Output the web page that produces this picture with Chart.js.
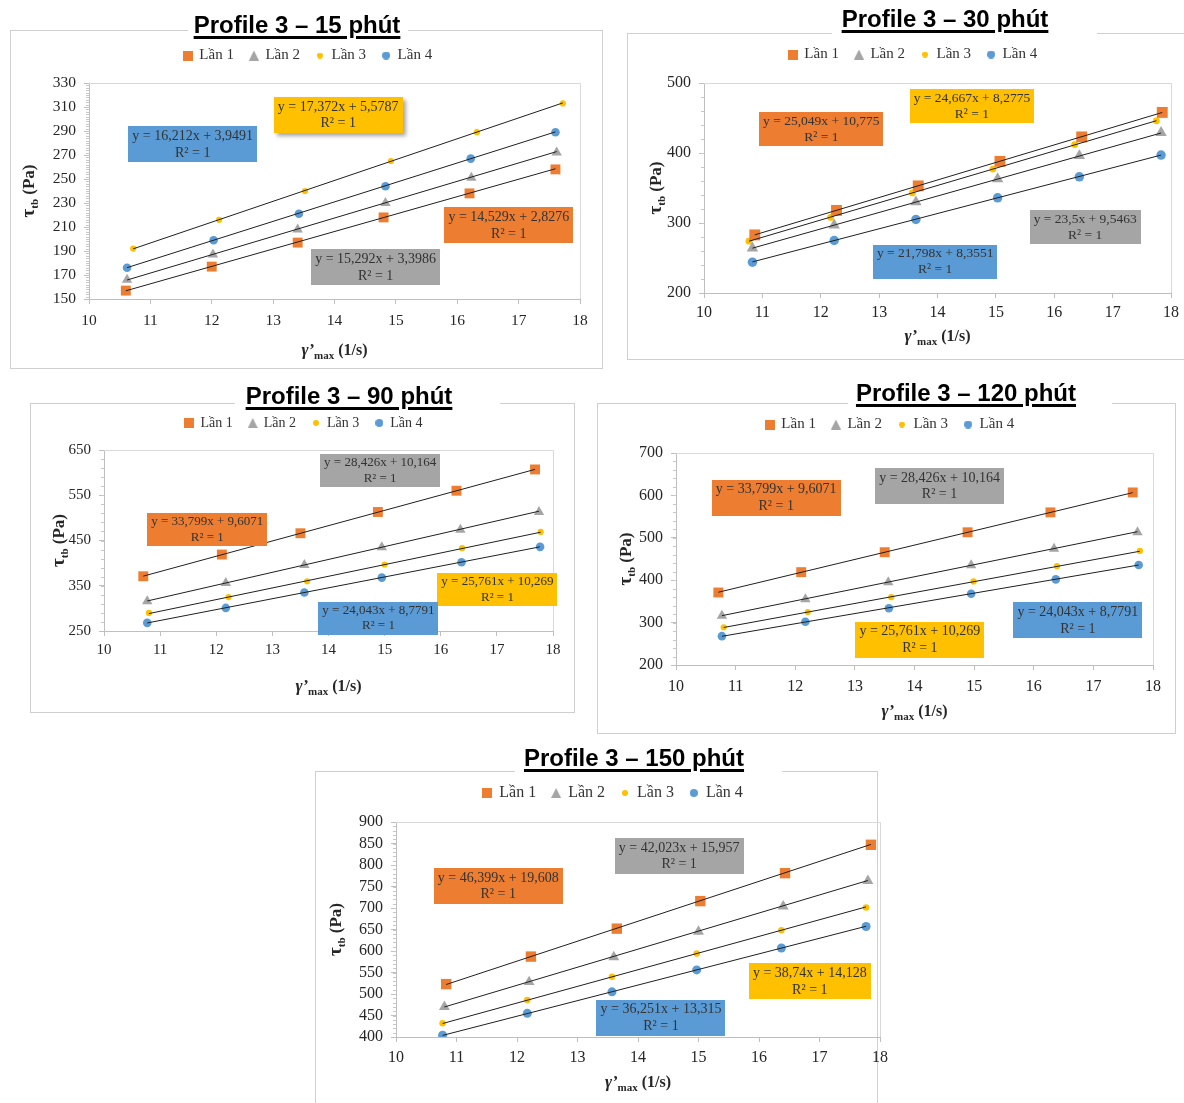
<!DOCTYPE html>
<html>
<head>
<meta charset="utf-8">
<script src="https://cdn.jsdelivr.net/npm/chart.js@4.4.1/dist/chart.umd.min.js"></script>
<style>
  html, body { margin: 0; padding: 0; background: #ffffff; }
  body { width: 1184px; height: 1103px; position: relative; overflow: hidden; }
  .frame { position: absolute; border: 1px solid #CFCFCF; box-sizing: border-box; }
  .gap { position: absolute; background: #ffffff; }
  .title { position: absolute; text-align: center; white-space: nowrap; width: 400px;
           font: bold 24px "Liberation Sans", Arial, sans-serif; color: #000; line-height: 30px;
           text-decoration: underline; text-decoration-thickness: 3px; text-underline-offset: 3px; }
  canvas { position: absolute; }
</style>
</head>
<body>
<script>
// ---- series & axes -------------------------------------------------------
const seriesNames = ['Lần 1', 'Lần 2', 'Lần 3', 'Lần 4'];
const chartTitles = ['Profile 3 – 15 phút', 'Profile 3 – 30 phút', 'Profile 3 – 90 phút',
                     'Profile 3 – 120 phút', 'Profile 3 – 150 phút'];
const xTicks = [10, 18, 1];                 // min, max, step of γ'max

// 15 phút
const x15 = [[10.6, 12.0, 13.4, 14.8, 16.2, 17.6],
             [10.62, 12.02, 13.4, 14.83, 16.23, 17.62],
             [10.72, 12.12, 13.52, 14.92, 16.32, 17.72],
             [10.62, 12.03, 13.42, 14.83, 16.22, 17.6]];
const y15 = [[157, 177, 197, 218, 238, 258],
             [166, 187, 208, 230, 251, 272],
             [192, 216, 240, 265, 289, 313],
             [176, 199, 221, 244, 267, 289]];
const slope15 = [14.529, 15.292, 17.372, 16.212];
const icpt15  = [2.8276, 3.3986, 5.5787, 3.9491];
const yTicks15 = [150, 330, 20];

// 30 phút
const x30 = [[10.87, 12.27, 13.67, 15.07, 16.47, 17.85],
             [10.83, 12.23, 13.63, 15.03, 16.43, 17.83],
             [10.77, 12.17, 13.57, 14.95, 16.35, 17.75],
             [10.83, 12.23, 13.63, 15.03, 16.43, 17.83]];
const y30 = [[283, 318, 353, 388, 423, 458],
             [264, 297, 330, 363, 396, 429],
             [274, 308, 343, 377, 412, 446],
             [244, 275, 305, 336, 366, 397]];
const slope30 = [25.049, 23.5, 24.667, 21.798];
const icpt30  = [10.775, 9.5463, 8.2775, 8.3551];
const yTicks30 = [200, 500, 100];

// 90 phút
const x90 = [[10.7, 12.1, 13.5, 14.88, 16.28, 17.68],
             [10.77, 12.17, 13.57, 14.95, 16.35, 17.75],
             [10.8, 12.22, 13.62, 15.0, 16.38, 17.78],
             [10.77, 12.17, 13.57, 14.95, 16.37, 17.77]];
const y90 = [[371, 419, 466, 513, 560, 607],
             [316, 356, 396, 435, 474, 513],
             [290, 325, 360, 397, 433, 469],
             [268, 301, 335, 368, 402, 436]];
const slope90 = [33.799, 28.426, 25.761, 24.043];
const icpt90  = [9.6071, 10.164, 10.269, 8.7791];
const yTicks90 = [250, 650, 100];

// 120 phút
const x120 = [[10.71, 12.1, 13.5, 14.89, 16.28, 17.66],
              [10.77, 12.17, 13.56, 14.95, 16.34, 17.74],
              [10.8, 12.21, 13.61, 14.99, 16.39, 17.78],
              [10.77, 12.17, 13.57, 14.95, 16.37, 17.76]];
const y120 = [[371, 419, 466, 513, 560, 607],
              [316, 355, 395, 435, 474, 513],
              [289, 325, 360, 397, 433, 469],
              [268, 302, 334, 368, 402, 436]];
const slope120 = [33.799, 28.426, 25.761, 24.043];
const icpt120  = [9.6071, 10.164, 10.269, 8.7791];
const yTicks120 = [200, 700, 100];

// 150 phút
const x150 = [[10.83, 12.23, 13.65, 15.03, 16.43, 17.85],
              [10.8, 12.2, 13.6, 15.0, 16.4, 17.8],
              [10.77, 12.17, 13.57, 14.97, 16.37, 17.77],
              [10.77, 12.17, 13.57, 14.97, 16.37, 17.77]];
const y150 = [[523, 587, 652, 716, 781, 847],
              [470, 528, 586, 645, 704, 763],
              [432, 486, 540, 594, 648, 701],
              [404, 455, 505, 556, 607, 657]];
const slope150 = [46.399, 42.023, 38.74, 36.251];
const icpt150  = [19.608, 15.957, 14.128, 13.315];
const yTicks150 = [400, 900, 50];

// ---- styling -------------------------------------------------------------
const seriesColors = ['#ED7D31', '#A5A5A5', '#FFC000', '#5B9BD5'];
const pointStyles  = ['rect', 'triangle', 'circle', 'circle'];
const pointRadii   = [7, 6, 3.1, 4.3];
const SERIF = '"Liberation Serif", "Times New Roman", serif';
const TEXT = '#262626';

// page geometry of each panel: frame box, title centre, white gap in the
// frame's top edge, canvas, plot area, legend centre and equation boxes
// (equation box centres are given in axis units)
const panels = [
  { frame: [10, 30, 603, 369], titleXY: [297, 25], gap: [188, 408],
    canvas: [11, 24, 603, 369], plot: [89, 83, 580, 299], legend: [308, 55], legendFont: 15,
    tickFont: 15.5, xPad: 8, minor: 10, eqFont: 14, xTitleDy: 50, yTitleDx: 61, markScale: 1,
    boxes: [[16.84, 211.3], [14.67, 176.3], [14.06, 303.3, true], [11.69, 278.8]] },
  { frame: [627, 33, 1200, 360], titleXY: [945, 19], gap: [832, 1097],
    canvas: [628, 24, 1184, 360], plot: [704, 83, 1175, 293], legend: [913, 54], legendFont: 15,
    tickFont: 16, xPad: 5, minor: 5, eqFont: 13.5, xTitleDy: 42, yTitleDx: 49, markScale: 1.1,
    boxes: [[12.01, 433.6], [16.53, 294.3], [14.59, 467.1], [13.96, 245.0]] },
  { frame: [30, 403, 575, 713], titleXY: [349, 396], gap: [235, 500],
    canvas: [31, 393, 575, 713], plot: [104, 450, 553, 631], legend: [304, 423], legendFont: 14,
    tickFont: 15, xPad: 5, minor: 5, eqFont: 13, xTitleDy: 54, yTitleDx: 46, markScale: 1,
    boxes: [[11.84, 474.3], [14.92, 604.7], [17.01, 341.7], [14.89, 278.7]] },
  { frame: [597, 403, 1176, 734], titleXY: [966, 393], gap: [848, 1112],
    canvas: [598, 393, 1176, 734], plot: [676, 453, 1153, 665], legend: [890, 424], legendFont: 15,
    tickFont: 16, xPad: 7, minor: 5, eqFont: 14, xTitleDy: 45, yTitleDx: 51, markScale: 1,
    boxes: [[11.68, 595.0], [14.42, 622.2], [14.09, 260.1], [16.74, 305.0]] },
  { frame: [315, 771, 878, 1120], titleXY: [634, 758], gap: [515, 782],
    canvas: [316, 761, 900, 1103], plot: [396, 822, 880, 1037], legend: [613, 793], legendFont: 16,
    tickFont: 16, xPad: 6, minor: 5, eqFont: 14, xTitleDy: 44, yTitleDx: 61, markScale: 1.05,
    boxes: [[11.69, 751.2], [14.68, 820.9], [16.84, 529.1], [14.38, 445.3]] }
];

const panelData = [
  { xs: x15,  ys: y15,  slope: slope15,  icpt: icpt15,  yTicks: yTicks15 },
  { xs: x30,  ys: y30,  slope: slope30,  icpt: icpt30,  yTicks: yTicks30 },
  { xs: x90,  ys: y90,  slope: slope90,  icpt: icpt90,  yTicks: yTicks90 },
  { xs: x120, ys: y120, slope: slope120, icpt: icpt120, yTicks: yTicks120 },
  { xs: x150, ys: y150, slope: slope150, icpt: icpt150, yTicks: yTicks150 }
];

// ---- helpers -------------------------------------------------------------
const fmt = v => String(v).replace('.', ',');

function markerIcon(style, color, size) {
  const c = document.createElement('canvas');
  c.width = size; c.height = size;
  const g = c.getContext('2d');
  g.fillStyle = color;
  if (style === 'rect') {
    g.fillRect(0, 0, size, size);
  } else if (style === 'triangle') {
    g.beginPath(); g.moveTo(size / 2, 0); g.lineTo(size, size); g.lineTo(0, size); g.closePath(); g.fill();
  } else {
    g.beginPath(); g.arc(size / 2, size / 2, size / 2, 0, Math.PI * 2); g.fill();
  }
  return c;
}
const legendIcons = [
  markerIcon('rect', seriesColors[0], 10),
  markerIcon('triangle', seriesColors[1], 10),
  markerIcon('circle', seriesColors[2], 6),
  markerIcon('circle', seriesColors[3], 8)
];

// text made of runs: [text, size, dy, italic]
function drawRuns(ctx, runs, cx, cy, vertical) {
  ctx.save();
  ctx.translate(cx, cy);
  if (vertical) ctx.rotate(-Math.PI / 2);
  ctx.fillStyle = TEXT;
  ctx.textBaseline = 'alphabetic';
  ctx.textAlign = 'left';
  let total = 0;
  const widths = runs.map(r => {
    ctx.font = `${r[3] ? 'italic ' : ''}bold ${r[1]}px ${SERIF}`;
    const w = ctx.measureText(r[0]).width; total += w; return w;
  });
  let x = -total / 2;
  runs.forEach((r, i) => {
    ctx.font = `${r[3] ? 'italic ' : ''}bold ${r[1]}px ${SERIF}`;
    ctx.fillText(r[0], x, 6 + r[2]);
    x += widths[i];
  });
  ctx.restore();
}

function decorPlugin(p, d) {
  return {
    id: 'decor',
    beforeInit(chart) {
      // fixed legend band so the plot area lands where it should
      const fit = chart.legend.fit;
      chart.legend.fit = function () {
        fit.call(this);
        this.height = p._legendH;
      };
    },
    beforeDatasetsDraw(chart) {
      const { ctx, chartArea: a, scales } = chart;
      ctx.save();
      ctx.strokeStyle = '#D9D9D9';
      ctx.lineWidth = 1;
      ctx.beginPath();
      ctx.moveTo(a.left, a.top + 0.5); ctx.lineTo(a.right + 0.5, a.top + 0.5); ctx.lineTo(a.right + 0.5, a.bottom);
      ctx.stroke();
      // minor ticks along the value axis
      const [y0, y1, step] = d.yTicks;
      const sub = step / p.minor;
      ctx.strokeStyle = '#C8C8C8';
      ctx.beginPath();
      for (let v = y0 + sub; v < y1 - sub / 2; v += sub) {
        const py = Math.round(scales.y.getPixelForValue(v)) + 0.5;
        ctx.moveTo(a.left - 3, py); ctx.lineTo(a.left, py);
      }
      ctx.stroke();
      ctx.restore();
    },
    afterDatasetsDraw(chart) {
      const { ctx, chartArea: a, scales } = chart;
      // equation boxes
      p.boxes.forEach((b, i) => {
        const l1 = `y = ${fmt(d.slope[i])}x + ${fmt(d.icpt[i])}`;
        const l2 = 'R² = 1';
        ctx.save();
        ctx.font = `${p.eqFont}px ${SERIF}`;
        const w = Math.round(ctx.measureText(l1).width + 8);
        const h = Math.round(p.eqFont * 2.55);
        const cx = scales.x.getPixelForValue(b[0]);
        const cy = scales.y.getPixelForValue(b[1]);
        if (b[2]) {
          ctx.shadowColor = 'rgba(0,0,0,0.35)';
          ctx.shadowOffsetX = 3; ctx.shadowOffsetY = 3; ctx.shadowBlur = 4;
        }
        ctx.fillStyle = seriesColors[i];
        ctx.fillRect(Math.round(cx - w / 2), Math.round(cy - h / 2), w, h);
        ctx.shadowColor = 'transparent';
        ctx.fillStyle = '#333333';
        ctx.textAlign = 'center';
        ctx.textBaseline = 'middle';
        ctx.fillText(l1, cx, cy - p.eqFont * 0.58);
        ctx.fillText(l2, cx, cy + p.eqFont * 0.62);
        ctx.restore();
      });
      // axis titles with subscripts
      const midX = (a.left + a.right) / 2, midY = (a.top + a.bottom) / 2;
      drawRuns(ctx, [['γ’', 17, 0, true], ['max', 11, 4, false], [' (1/s)', 16, 0, false]],
               midX, a.bottom + p.xTitleDy, false);
      drawRuns(ctx, [['τ', 19, 0, false], ['tb', 11, 4, false], [' (Pa)', 17, 0, false]],
               a.left - p.yTitleDx, midY, true);
    }
  };
}

function buildPanel(p, d, title) {
  const fr = document.createElement('div');
  fr.className = 'frame';
  Object.assign(fr.style, { left: p.frame[0] + 'px', top: p.frame[1] + 'px',
    width: (p.frame[2] - p.frame[0]) + 'px', height: (p.frame[3] - p.frame[1]) + 'px' });
  document.body.appendChild(fr);

  // white break in the frame's top edge behind the heading
  const gp = document.createElement('div');
  gp.className = 'gap';
  Object.assign(gp.style, { left: p.gap[0] + 'px', width: (p.gap[1] - p.gap[0]) + 'px',
    top: (p.frame[1] - 2) + 'px', height: '5px' });
  document.body.appendChild(gp);

  const [cl, ct, cr, cb] = p.canvas;
  const [pl, pt, pr, pb] = p.plot;
  const cv = document.createElement('canvas');
  cv.width = cr - cl; cv.height = cb - ct;
  Object.assign(cv.style, { left: cl + 'px', top: ct + 'px', width: (cr - cl) + 'px', height: (cb - ct) + 'px' });
  document.body.appendChild(cv);

  const tt = document.createElement('div');
  tt.className = 'title';
  tt.textContent = title;
  Object.assign(tt.style, { left: (p.titleXY[0] - 200) + 'px', top: (p.titleXY[1] - 15) + 'px' });
  document.body.appendChild(tt);

  const padR = cr - pr;
  const padL = 2 * p.legend[0] - cl - cr + padR;
  const lgap = 16;
  const padT = Math.round(p.legend[1] - ct - lgap - p.legendFont / 2);
  p._legendH = pt - ct - padT;
  const yWidth = pl - cl - padL;
  const xHeight = cb - pb;

  const datasets = [];
  d.xs.forEach((xs, i) => {
    datasets.push({
      label: seriesNames[i],
      data: xs.map((x, j) => ({ x, y: d.ys[i][j] })),
      pointStyle: pointStyles[i],
      pointRadius: pointRadii[i] * p.markScale,
      pointHoverRadius: pointRadii[i] * p.markScale,
      backgroundColor: seriesColors[i],
      borderColor: seriesColors[i],
      pointBorderWidth: 0,
      showLine: false,
      order: 1
    });
  });
  // linear trend lines from the fitted equations, over each series' x range
  d.slope.forEach((m, i) => {
    const x0 = Math.min(...d.xs[i]), x1 = Math.max(...d.xs[i]);
    datasets.push({
      label: 'trend ' + seriesNames[i],
      isTrend: true,
      data: [{ x: x0, y: m * x0 + d.icpt[i] }, { x: x1, y: m * x1 + d.icpt[i] }],
      showLine: true,
      borderColor: '#1f1f1f',
      borderWidth: 1,
      pointRadius: 0,
      fill: false,
      order: 0
    });
  });

  const tickFont = { family: SERIF, size: p.tickFont };
  new Chart(cv, {
    type: 'scatter',
    data: { datasets },
    options: {
      responsive: false,
      animation: false,
      events: [],
      layout: { padding: { left: padL, right: padR, top: padT, bottom: 0 } },
      plugins: {
        tooltip: { enabled: false },
        title: { display: false },
        legend: {
          display: true,
          position: 'top',
          labels: {
            usePointStyle: true,
            boxWidth: 8,
            boxHeight: 8,
            padding: lgap,
            color: '#333333',
            font: { family: SERIF, size: p.legendFont },
            generateLabels(chart) {
              const items = Chart.defaults.plugins.legend.labels.generateLabels(chart);
              return items
                .filter(it => !chart.data.datasets[it.datasetIndex].isTrend)
                .map(it => Object.assign(it, { pointStyle: legendIcons[it.datasetIndex], fontColor: '#333333' }));
            }
          }
        }
      },
      scales: {
        x: {
          type: 'linear',
          min: xTicks[0], max: xTicks[1],
          ticks: { stepSize: xTicks[2], color: TEXT, font: tickFont, padding: p.xPad, maxRotation: 0, autoSkip: false },
          grid: { drawOnChartArea: false, drawTicks: true, tickLength: 5, tickColor: '#BFBFBF' },
          border: { color: '#BFBFBF' },
          afterFit(s) { s.height = xHeight; }
        },
        y: {
          type: 'linear',
          min: d.yTicks[0], max: d.yTicks[1],
          ticks: { stepSize: d.yTicks[2], color: TEXT, font: tickFont, padding: 8, autoSkip: false },
          grid: { drawOnChartArea: false, drawTicks: true, tickLength: 5, tickColor: '#BFBFBF' },
          border: { color: '#BFBFBF' },
          afterFit(s) { s.width = yWidth; }
        }
      }
    },
    plugins: [decorPlugin(p, d)]
  });
}

panels.forEach((p, i) => buildPanel(p, panelData[i], chartTitles[i]));
</script>
</body>
</html>
